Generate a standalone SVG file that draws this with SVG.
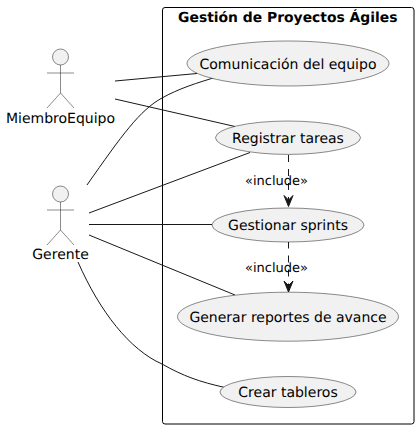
<svg xmlns="http://www.w3.org/2000/svg" width="419" height="429" viewBox="0 0 419 429">
<style>
text{font-family:"DejaVu Sans",sans-serif;fill:#000;text-rendering:geometricPrecision}
.uc{fill:#f1f1f1;stroke:#181818;stroke-width:.5}
.uc-t{font-size:14px;text-anchor:middle}
.act{fill:none;stroke:#181818;stroke-width:.5}
.head{fill:#f1f1f1;stroke:#181818;stroke-width:.5}
.link{fill:none;stroke:#181818;stroke-width:1}
.dash{stroke-dasharray:7 7}
.tip{fill:#181818;stroke:#181818;stroke-width:1}
.stereo{font-size:13px;text-anchor:middle}
</style>
<defs>
<g id="stick"><circle class="head" cx="0" cy="8" r="8"/><path class="act" d="M0 16V44M-13.500 24H13.500M0 44L-13.500 59M0 44L13.500 59"/></g>
</defs>
<g id="frame"><rect x="162.500" y="7.500" width="251.500" height="416.500" rx="2.500" fill="#fff" stroke="#000" stroke-width="1"/>
<text x="287.800" y="22" font-size="13.900" font-weight="bold" text-anchor="middle">Gestión de Proyectos Ágiles</text></g>
<g id="connectors">
<path class="link" d="M115 81L197 73.500"/>
<path class="link" d="M115 99L235 126.500"/>
<path class="link" d="M87 185C122 135 140 110 162 98C178 89 196 83 220 76"/>
<path class="link" d="M89 213L250 152.500"/>
<path class="link" d="M89 224.500H212"/>
<path class="link" d="M89 235L235 295"/>
<path class="link" d="M78 262C100 312 130 350 162 364C183 376 200 382 225 387.500"/>
<path class="link dash" d="M288.500 155V200"/>
<path class="tip" d="M288.500 206.500L284 195.500L288.500 200L293 195.500Z"/>
<path class="link dash" d="M288.500 241.500V286"/>
<path class="tip" d="M288.500 292L284 281L288.500 285.500L293 281Z"/>
</g>
<g id="actor-miembro"><use href="#stick" x="60.500" y="49"/><text x="60.500" y="122.500" font-size="14" text-anchor="middle">MiembroEquipo</text></g>
<g id="actor-gerente"><use href="#stick" x="60.500" y="186"/><text x="60.500" y="259" font-size="14" text-anchor="middle">Gerente</text></g>
<g id="uc-comunicacion"><ellipse class="uc" cx="288" cy="63.500" rx="101" ry="22.500"/><text class="uc-t" x="288" y="69">Comunicación del equipo</text></g>
<g id="uc-registrar"><ellipse class="uc" cx="288" cy="137.700" rx="72.500" ry="16.700"/><text class="uc-t" x="288" y="143">Registrar tareas</text></g>
<g id="uc-gestionar"><ellipse class="uc" cx="288" cy="225" rx="76" ry="17"/><text class="uc-t" x="288" y="229.500">Gestionar sprints</text></g>
<g id="uc-generar"><ellipse class="uc" cx="288" cy="316.700" rx="110.500" ry="24.500"/><text class="uc-t" x="288" y="321.500">Generar reportes de avance</text></g>
<g id="uc-crear"><ellipse class="uc" cx="288" cy="392" rx="68" ry="15.500"/><text class="uc-t" x="288" y="397">Crear tableros</text></g>
<g id="labels"><text class="stereo" x="276.500" y="185">«include»</text><text class="stereo" x="276.500" y="272">«include»</text></g>
</svg>
